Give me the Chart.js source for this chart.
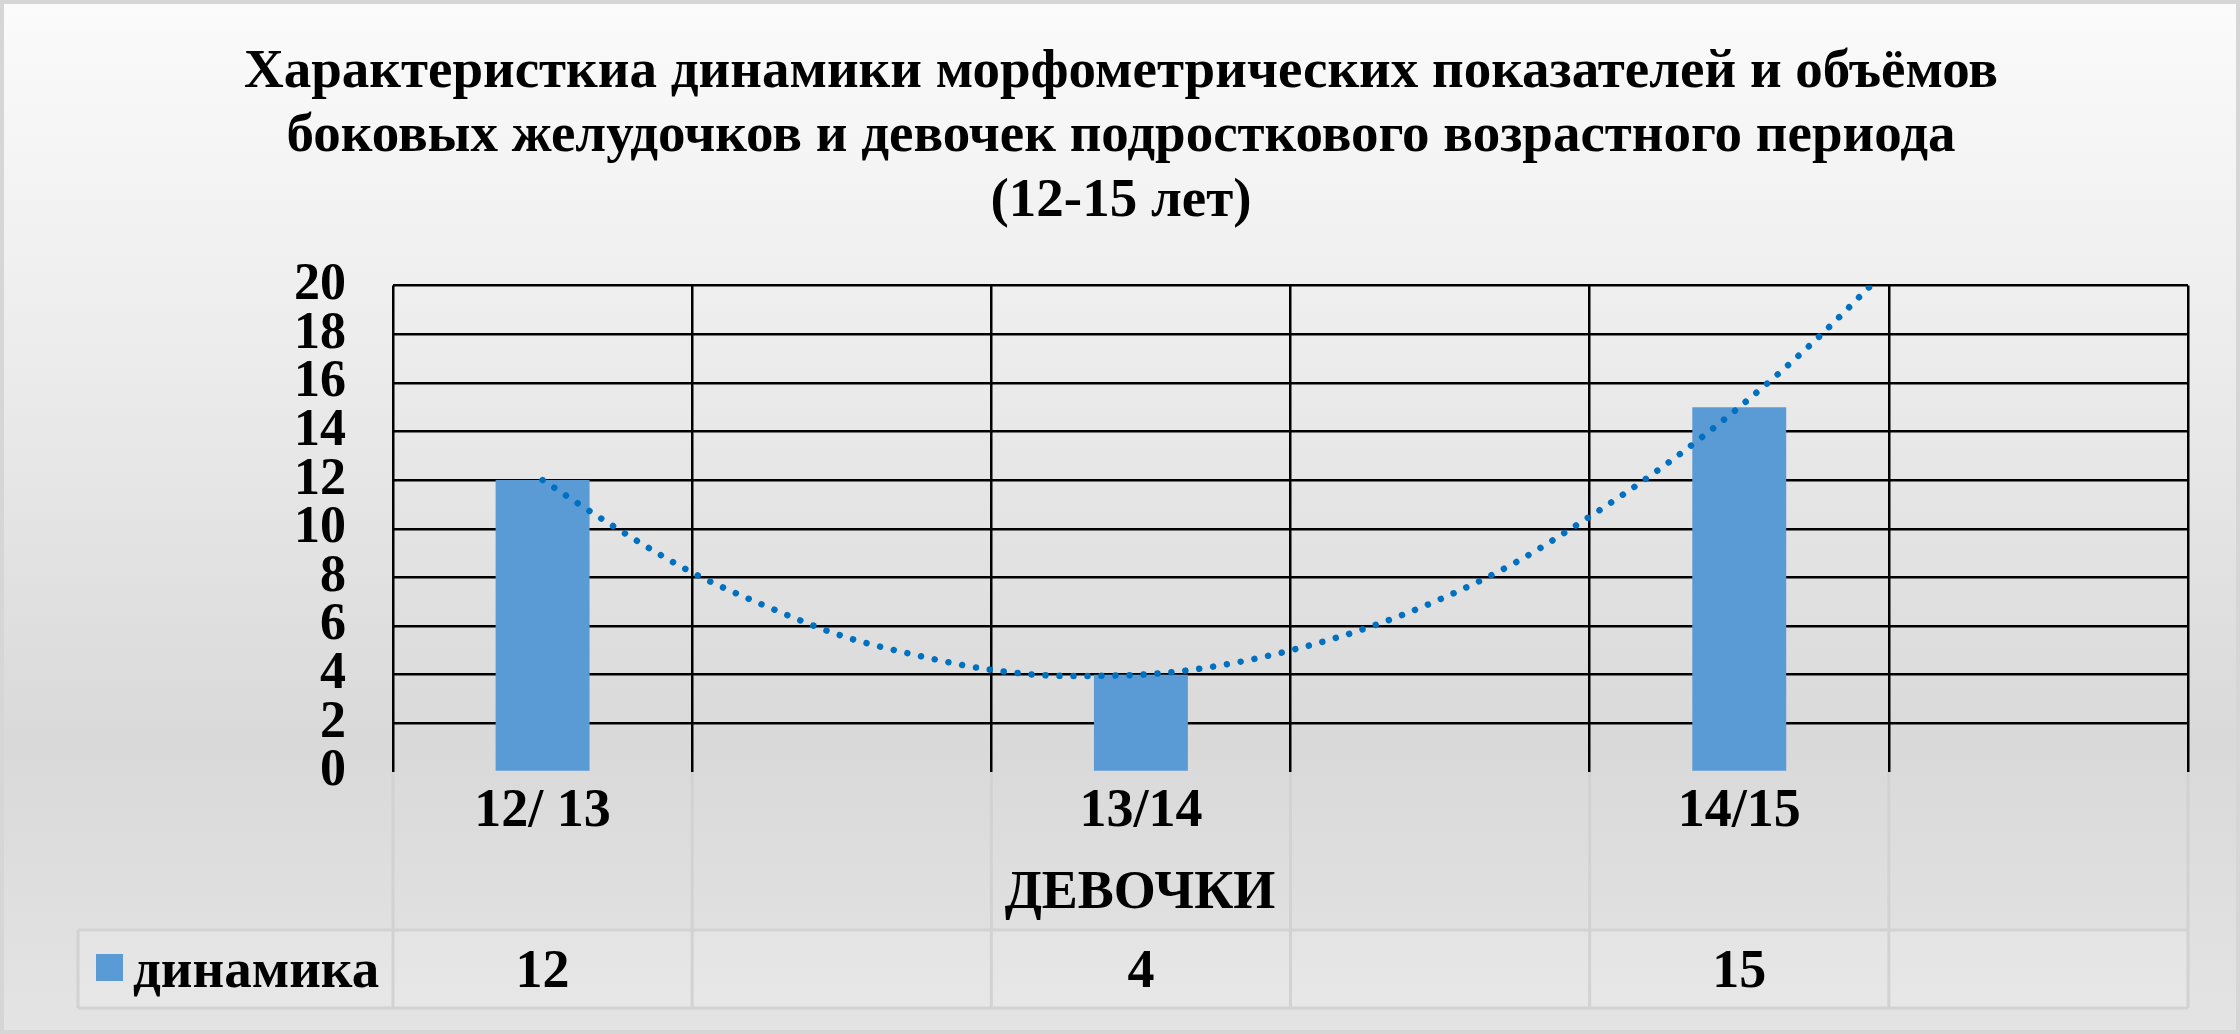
<!DOCTYPE html>
<html>
<head>
<meta charset="utf-8">
<script src="https://cdn.jsdelivr.net/npm/chart.js@4.4.1/dist/chart.umd.min.js"></script>
<style>
  html, body { margin: 0; padding: 0; background: #ffffff; overflow: hidden; }
  canvas { display: block; }
</style>
</head>
<body>
<canvas id="c" width="2240" height="1034"></canvas>
<script>
// ---- data ----
const titleLines = [
  'Характеристкиа динамики морфометрических показателей и объёмов',
  'боковых желудочков и девочек подросткового возрастного периода',
  '(12-15 лет)'
];
const categories = ['12/ 13', '', '13/14', '', '14/15', ''];
const seriesName = 'динамика';
const barValues = [12, null, 4, null, 15, null];
const axisTitle = 'ДЕВОЧКИ';
// dotted trend line (x in category units)
const trendX = [0, 0.25, 0.5, 0.75, 1, 1.25, 1.5, 1.75, 2, 2.25, 2.5, 2.75, 3, 3.25, 3.5, 3.75, 4, 4.25, 4.44];
const trendY = [12, 10, 8.2, 6.8, 5.6, 4.8, 4.2, 3.95, 4, 4.35, 5, 5.9, 7.1, 8.6, 10.5, 12.6, 15, 17.7, 20];
const yMin = 0, yMax = 20, yStep = 2;

const FONT = '"Liberation Serif", "Times New Roman", serif';

const bgPlugin = {
  id: 'bg',
  beforeDraw(chart) {
    const ctx = chart.ctx, W = chart.width, H = chart.height;
    ctx.save();
    const g = ctx.createLinearGradient(0, 0, 0, H);
    g.addColorStop(0, '#fbfbfb');
    g.addColorStop(0.3, '#eeeeee');
    g.addColorStop(0.72, '#d9d9d9');
    g.addColorStop(1, '#e4e4e4');
    ctx.fillStyle = g;
    ctx.fillRect(0, 0, W, H);
    ctx.strokeStyle = '#d6d6d6';
    ctx.lineWidth = 4;
    ctx.strokeRect(2, 2, W - 4, H - 4);

    // data table cells
    const ca = chart.chartArea;
    const n = categories.length;
    const step = (ca.right - ca.left) / n;
    const rowTop = 930, rowBot = 1008, legLeft = 78;
    ctx.fillStyle = 'rgba(255,255,255,0.14)';
    ctx.fillRect(legLeft, rowTop, ca.right - legLeft, rowBot - rowTop);
    ctx.strokeStyle = '#d2d2d2';
    ctx.lineWidth = 3;
    ctx.beginPath();
    for (let i = 0; i <= n; i++) {
      const x = ca.left + i * step;
      ctx.moveTo(x, ca.bottom); ctx.lineTo(x, rowBot);
    }
    ctx.moveTo(legLeft, rowTop); ctx.lineTo(ca.right, rowTop);
    ctx.moveTo(legLeft, rowBot); ctx.lineTo(ca.right, rowBot);
    ctx.moveTo(legLeft, rowTop); ctx.lineTo(legLeft, rowBot);
    ctx.stroke();
    ctx.restore();
  },
  afterDraw(chart) {
    const ctx = chart.ctx;
    const xs = chart.scales.x;
    ctx.save();
    ctx.fillStyle = '#000';
    // title
    ctx.font = 'bold 55px ' + FONT;
    ctx.textAlign = 'center';
    ctx.textBaseline = 'alphabetic';
    const baselines = [87, 151, 216];
    titleLines.forEach((t, i) => ctx.fillText(t, 1121, baselines[i]));
    // axis title
    ctx.font = 'bold 54px ' + FONT;
    ctx.fillText(axisTitle, 1140, 908);
    // data row values
    barValues.forEach((v, i) => {
      if (v === null) return;
      ctx.fillText(String(v), xs.getPixelForValue(i), 987);
    });
    // legend key
    ctx.fillStyle = '#5b9bd5';
    ctx.fillRect(96, 954, 27, 27);
    ctx.fillStyle = '#000';
    ctx.textAlign = 'left';
    ctx.font = 'bold 55px ' + FONT;
    ctx.fillText(seriesName, 133, 987);
    ctx.restore();
  }
};

new Chart(document.getElementById('c'), {
  data: {
    labels: categories,
    datasets: [
      {
        type: 'line',
        label: 'trend',
        xAxisID: 'xT',
        yAxisID: 'y',
        data: trendX.map((x, i) => ({ x: x, y: trendY[i] })),
        borderColor: '#0070c0',
        borderWidth: 6.5,
        borderDash: [0.01, 14],
        borderCapStyle: 'round',
        pointRadius: 0,
        fill: false,
        cubicInterpolationMode: 'monotone',
        order: 0
      },
      {
        type: 'bar',
        label: seriesName,
        xAxisID: 'x',
        yAxisID: 'y',
        data: barValues,
        backgroundColor: '#5b9bd5',
        borderWidth: 0,
        grouped: false,
        barPercentage: 0.314,
        categoryPercentage: 1,
        order: 1
      }
    ]
  },
  options: {
    responsive: false,
    devicePixelRatio: 1,
    animation: false,
    events: [],
    layout: { padding: { left: 0, top: 285.5, right: 52, bottom: 0 } },
    plugins: {
      legend: { display: false },
      title: { display: false },
      tooltip: { enabled: false }
    },
    scales: {
      x: {
        type: 'category',
        position: 'bottom',
        offset: true,
        border: { display: false },
        grid: { offset: true, color: '#000', lineWidth: 2.5, drawTicks: false },
        ticks: {
          color: '#000',
          font: { family: FONT, size: 54, weight: 'bold' },
          padding: 8,
          maxRotation: 0,
          autoSkip: false
        },
        afterFit(s) { s.height = 262; }
      },
      xT: {
        type: 'linear',
        display: false,
        min: -0.5,
        max: 5.5,
        offset: false
      },
      y: {
        type: 'linear',
        min: yMin,
        max: yMax,
        border: { display: false },
        grid: {
          color: (c) => (c.tick && c.tick.value === 0 ? 'rgba(0,0,0,0)' : '#000'),
          lineWidth: 2.5,
          drawTicks: false
        },
        ticks: {
          stepSize: yStep,
          autoSkip: false,
          color: '#000',
          font: { family: FONT, size: 52, weight: 'bold' },
          padding: 47
        },
        afterFit(s) { s.width = 393; }
      }
    }
  },
  plugins: [bgPlugin]
});
</script>
</body>
</html>
